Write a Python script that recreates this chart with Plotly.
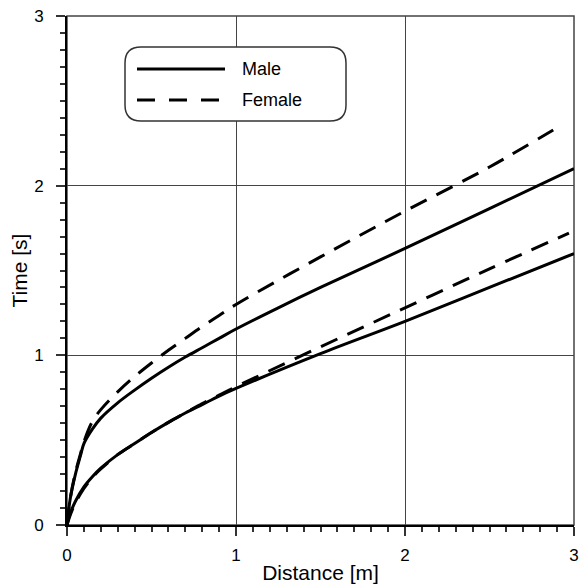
import plotly.graph_objects as go

# ---- data ----
male_upper_x = [0, 0.02, 0.05, 0.08, 0.1, 0.15, 0.2, 0.3, 0.4, 0.5, 0.6, 0.7, 0.8, 0.9, 1.0, 1.25, 1.5, 2.0, 2.5, 3.0]
male_upper_y = [0, 0.16, 0.30, 0.41, 0.48, 0.565, 0.63, 0.72, 0.795, 0.865, 0.93, 0.99, 1.045, 1.10, 1.155, 1.28, 1.40, 1.63, 1.865, 2.10]

female_upper_x = [0, 0.02, 0.05, 0.08, 0.1, 0.15, 0.2, 0.3, 0.4, 0.5, 0.6, 0.7, 0.8, 0.9, 1.0, 1.5, 2.0, 2.5, 2.93]
female_upper_y = [0, 0.16, 0.31, 0.42, 0.49, 0.61, 0.68, 0.785, 0.875, 0.955, 1.03, 1.10, 1.17, 1.235, 1.30, 1.58, 1.85, 2.11, 2.36]

male_lower_x = [0, 0.02, 0.05, 0.1, 0.15, 0.2, 0.3, 0.4, 0.5, 0.6, 0.7, 0.8, 0.9, 1.0, 1.5, 2.0, 2.5, 3.0]
male_lower_y = [0, 0.07, 0.14, 0.225, 0.285, 0.335, 0.415, 0.48, 0.545, 0.605, 0.66, 0.71, 0.76, 0.805, 1.01, 1.20, 1.40, 1.60]

female_lower_x = [0, 0.02, 0.05, 0.1, 0.15, 0.2, 0.3, 0.4, 0.5, 0.6, 0.7, 0.8, 0.9, 1.0, 1.5, 2.0, 2.5, 2.97]
female_lower_y = [0, 0.06, 0.13, 0.215, 0.28, 0.33, 0.415, 0.48, 0.545, 0.605, 0.66, 0.715, 0.765, 0.815, 1.05, 1.28, 1.51, 1.72]

tick_vals = [0, 1, 2, 3]
tick_text = ["0", "1", "2", "3"]
legend_names = ["Male", "Female"]

FONT = "Arial, Liberation Sans, sans-serif"
W, H = 584, 584
ML, MR, MT, MB = 67, 10, 16, 59
PW, PH = W - ML - MR, H - MT - MB


def px2paper(px, py):
    return (px - ML) / PW, (H - MB - py) / PH


fig = go.Figure()
solid = dict(color="black", width=3)
dashed = dict(color="black", width=3, dash="18px,11px")
fig.add_trace(go.Scatter(x=male_upper_x, y=male_upper_y, mode="lines", line=dict(**solid, shape="spline", smoothing=1.0), name=legend_names[0]))
fig.add_trace(go.Scatter(x=male_lower_x, y=male_lower_y, mode="lines", line=dict(**solid, shape="spline", smoothing=1.0), name=legend_names[0]))
fig.add_trace(go.Scatter(x=female_upper_x, y=female_upper_y, mode="lines", line=dict(**dashed, shape="spline", smoothing=1.0), name=legend_names[1]))
fig.add_trace(go.Scatter(x=female_lower_x, y=female_lower_y, mode="lines", line=dict(**dashed, shape="spline", smoothing=1.0), name=legend_names[1]))

axis_common = dict(
    range=[0, 3], tickvals=tick_vals, ticktext=tick_text,
    showgrid=True, gridcolor="#444", gridwidth=1,
    showline=True, linecolor="black", linewidth=2,
    ticks="outside", ticklen=9, tickwidth=2, tickcolor="#333",
    minor=dict(dtick=0.1, tick0=0, ticks="outside", ticklen=5, tickwidth=2, tickcolor="#333", showgrid=False),
    tickfont=dict(family=FONT, size=17, color="black"),
    zeroline=False, fixedrange=True, automargin=False,
)

fig.update_layout(
    width=W, height=H,
    margin=dict(l=ML, r=MR, t=MT, b=MB, autoexpand=False),
    paper_bgcolor="white", plot_bgcolor="white",
    showlegend=False,
    font=dict(family=FONT, color="black"),
    xaxis=dict(**axis_common, ticklabelstandoff=5,
               title=dict(text="Distance [m]", font=dict(family=FONT, size=21), standoff=1)),
    yaxis=dict(**axis_common, ticklabelstandoff=9,
               title=dict(text="Time [s]", font=dict(family=FONT, size=21), standoff=1)),
)

shapes = []
# top and right frame
shapes.append(dict(type="rect", xref="paper", yref="paper", x0=0, y0=0, x1=1, y1=1,
                   line=dict(color="#444", width=1.5), layer="below"))

# rounded legend box
lx0, ly0, lx1, ly1, r = 125, 47, 346, 121, 16
def P(x, y):
    a, b = px2paper(x, y)
    return f"{a:.5f},{b:.5f}"
path = (f"M {P(lx0 + r, ly0)} L {P(lx1 - r, ly0)} Q {P(lx1, ly0)} {P(lx1, ly0 + r)} "
        f"L {P(lx1, ly1 - r)} Q {P(lx1, ly1)} {P(lx1 - r, ly1)} "
        f"L {P(lx0 + r, ly1)} Q {P(lx0, ly1)} {P(lx0, ly1 - r)} "
        f"L {P(lx0, ly0 + r)} Q {P(lx0, ly0)} {P(lx0 + r, ly0)} Z")
shapes.append(dict(type="path", xref="paper", yref="paper", path=path,
                   line=dict(color="#333", width=1.5), fillcolor="white", layer="above"))
for yy, ln in [(69, solid), (100, dict(color="black", width=3, dash="18px,14px"))]:
    x0, y0 = px2paper(137, yy)
    x1, _ = px2paper(225, yy)
    shapes.append(dict(type="line", xref="paper", yref="paper", x0=x0, y0=y0, x1=x1, y1=y0, line=ln, layer="above"))
fig.update_layout(shapes=shapes)

for yy, name in [(69, legend_names[0]), (100, legend_names[1])]:
    ax, ay = px2paper(240, yy)
    fig.add_annotation(x=ax, y=ay, xref="paper", yref="paper", text=name, showarrow=False,
                       xanchor="left", yanchor="middle", font=dict(family=FONT, size=18, color="black"))

fig.write_html("out.html")
